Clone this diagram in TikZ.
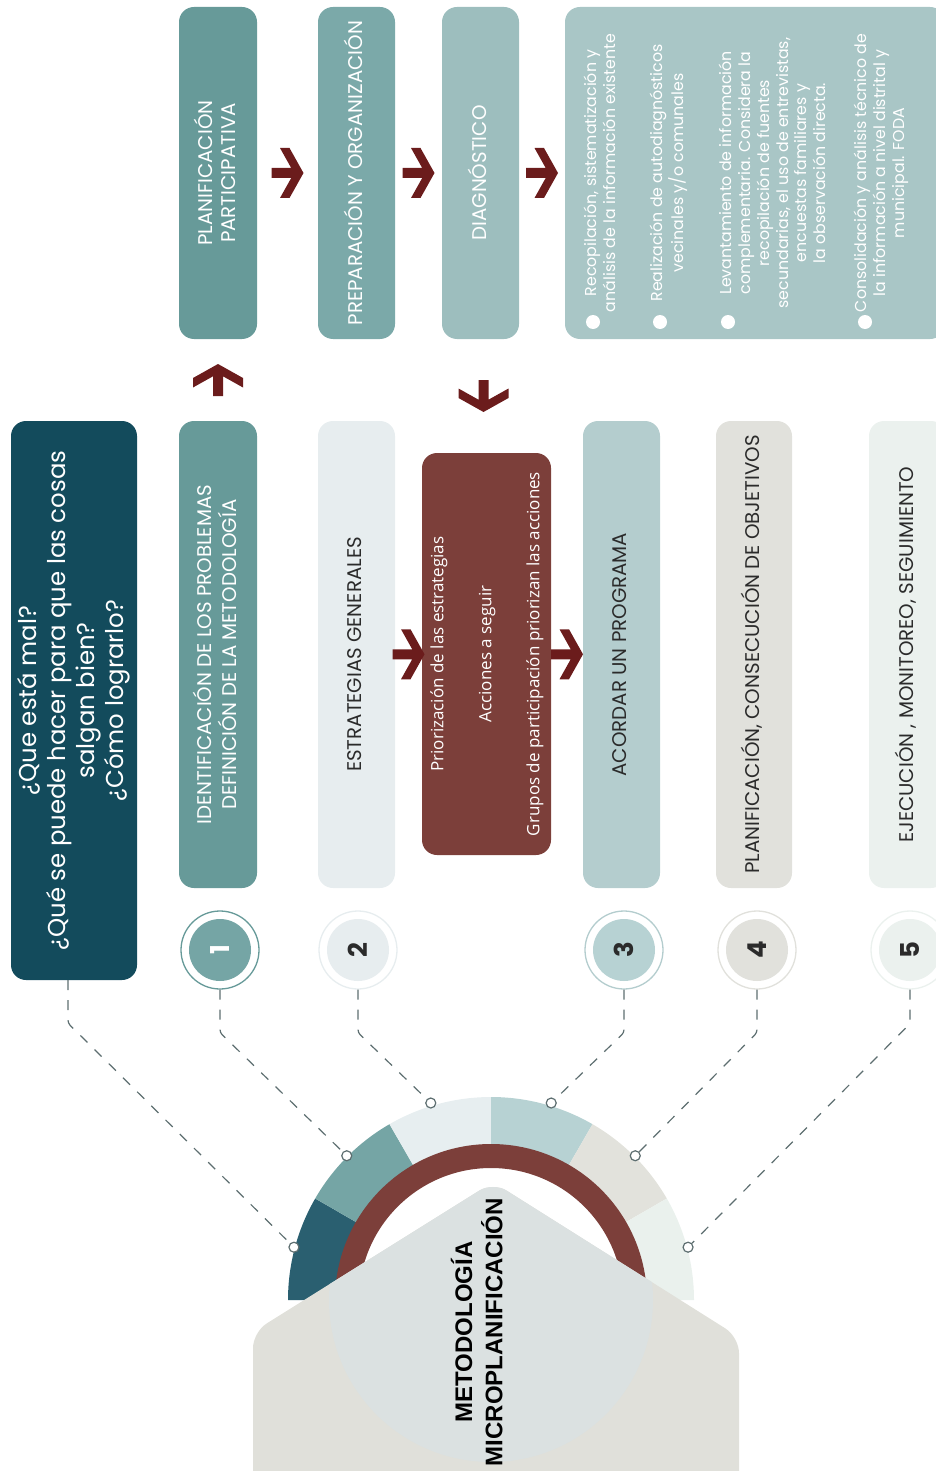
\documentclass[tikz,border=0pt]{standalone}
\usepackage{fontspec}
\setmainfont{Poppins}
\newfontfamily\osans{Open Sans}
\newfontfamily\arialb{Liberation Sans}
\usetikzlibrary{calc}
\definecolor{qblue}{HTML}{134B5C}
\definecolor{tealA}{HTML}{679A99}
\definecolor{tealB}{HTML}{7BA9A9}
\definecolor{tealC}{HTML}{9DBEBE}
\definecolor{tealD}{HTML}{A9C6C6}
\definecolor{ltB}{HTML}{E7EDEF}
\definecolor{ltC}{HTML}{B4CDCE}
\definecolor{ltD}{HTML}{E1E1DC}
\definecolor{ltE}{HTML}{EBF1EE}
\definecolor{brownbox}{HTML}{7C3F3A}
\definecolor{arrowred}{HTML}{6B1C1C}
\definecolor{segA}{HTML}{2A5F70}
\definecolor{segB}{HTML}{75A5A5}
\definecolor{segC}{HTML}{E7EEF0}
\definecolor{segD}{HTML}{B7D2D3}
\definecolor{segE}{HTML}{E2E2DC}
\definecolor{segF}{HTML}{EAF1ED}
\definecolor{housecol}{HTML}{E0E0DA}
\definecolor{housecirc}{HTML}{DBE1E1}
\definecolor{dashcol}{HTML}{5D6E70}
\definecolor{darktxt}{HTML}{2B2B2B}
\newcommand{\vtext}[1]{\rotatebox{90}{\begin{tabular}{@{}c@{}}#1\end{tabular}}}
\tikzset{
  box/.style={rounded corners=15pt, inner sep=0pt, draw=none},
  boxtxt/.style={font=\fontsize{19.8}{23}\selectfont},
  desctxt/.style={inner sep=0pt, text=white, font=\fontsize{15.8}{18.8}\selectfont},
  bulletdot/.style={circle, fill=white, minimum size=14pt, inner sep=0pt},
  marker/.style={circle, draw=dashcol, fill=white, line width=1.2pt, minimum size=10pt, inner sep=0pt},
  conn/.style={draw=dashcol, line width=1.2pt, dash pattern=on 10pt off 10pt, rounded corners=3pt},
  numc/.style 2 args={circle, minimum size=78pt, inner sep=0pt, line width=1.3pt, draw=#1, fill=white,
    path picture={\fill[#2] (path picture bounding box.center) circle (31);}},
  numtxt/.style={font=\bfseries\fontsize{26}{28}\selectfont},
  chev/.pic={\fill[arrowred] (16,0) -- (2,25) -- (-7.5,25) -- (3.7,5) -- (-16,5) -- (-16,-5) -- (3.7,-5) -- (-7.5,-25) -- (2,-25) -- cycle;}
}
\begin{document}
\begin{tikzpicture}[x=1pt,y=1pt]
\useasboundingbox (0,0) rectangle (936,-1471);
% ---- semicircle segments
\begin{scope}[shift={(491,-1300)}]
  \foreach \a/\b/\c in {180/150/segA,150/120/segB,120/90/segC,90/60/segD,60/30/segE,30/0/segF}{
    \fill[\c] (\a:203) arc[start angle=\a, end angle=\b, radius=203] -- (\b:140) arc[start angle=\b, end angle=\a, radius=140] -- cycle;
  }
  \fill[brownbox] (180:156) arc[start angle=180, end angle=0, radius=156] -- (0:132) arc[start angle=0, end angle=180, radius=132] -- cycle;
\end{scope}
% ---- house
\fill[housecol, rounded corners=16pt] (253,-1500) -- (253,-1332) -- (493,-1182) -- (739,-1337) -- (739,-1500) -- cycle;
\begin{scope}
  \clip[rounded corners=16pt] (253,-1500) -- (253,-1332) -- (493,-1182) -- (739,-1337) -- (739,-1500) -- cycle;
  \fill[housecirc] (491,-1300) circle (162);
\end{scope}
\node[font=\arialb\bfseries\fontsize{24}{30}\selectfont, text=black, inner sep=0pt] (title) at (481,-1332) {\vtext{METODOLOGÍA\\MICROPLANIFICACIÓN}};
% ---- top row
\node[box, fill=tealA, minimum width=78pt, minimum height=332pt, text=white, boxtxt] (plan) at (218,-173) {\vtext{PLANIFICACIÓN\\PARTICIPATIVA}};
\node[box, fill=tealB, minimum width=77pt, minimum height=332pt, text=white, boxtxt] (prep) at (356.5,-173) {\vtext{PREPARACIÓN Y ORGANIZACIÓN}};
\node[box, fill=tealC, minimum width=77pt, minimum height=332pt, text=white, boxtxt] (diag) at (480.5,-173) {\vtext{DIAGNÓSTICO}};
\node[box, fill=tealD, minimum width=380pt, minimum height=332pt] (desc) at (755,-173) {};
\node[desctxt] (d1) at (602.5,-173) {\vtext{Recopilación, sistematización y\\análisis de la información existente}};
\node[desctxt] (d2) at (669,-173) {\vtext{Realización de autodiagnósticos\\vecinales y/o comunales}};
\node[desctxt] (d3) at (775,-173) {\vtext{Levantamiento de información\\complementaria. Considera la\\recopilación de fuentes\\secundarias, el uso de entrevistas,\\encuestas familiares y\\la observación directa.}};
\node[desctxt] (d4) at (882,-173) {\vtext{Consolidación y análisis técnico de\\la información a nivel distrital y\\municipal. FODA}};
\node[bulletdot] (bl1) at (593,-322) {};
\node[bulletdot] (bl2) at (660,-322) {};
\node[bulletdot] (bl3) at (728,-322) {};
\node[bulletdot] (bl4) at (865,-322) {};
% ---- lower row
\node[box, fill=qblue, minimum width=126pt, minimum height=559pt, text=white, font=\fontsize{24.4}{29}\selectfont] (q) at (74,-700.5) {\vtext{¿Que está mal?\\¿Qué se puede hacer para que las cosas\\salgan bien?\\¿Cómo lograrlo?}};
\node[box, fill=tealA, minimum width=78pt, minimum height=467pt, text=white, boxtxt] (b1) at (218,-654.5) {\vtext{IDENTIFICACIÓN DE LOS PROBLEMAS\\DEFINICIÓN DE LA METODOLOGÍA}};
\node[box, fill=ltB, minimum width=77pt, minimum height=467pt, text=darktxt, boxtxt] (b2) at (356.5,-654.5) {\vtext{ESTRATEGIAS GENERALES}};
\node[box, fill=brownbox, minimum width=129pt, minimum height=402pt, text=white, font=\osans\fontsize{17}{24}\selectfont] (br) at (486.5,-654) {\vtext{Priorización de las estrategias\\ \\Acciones a seguir\\ \\Grupos de participación priorizan las acciones}};
\node[box, fill=ltC, minimum width=77pt, minimum height=467pt, text=darktxt, boxtxt] (b3) at (621.5,-654.5) {\vtext{ACORDAR UN PROGRAMA}};
\node[box, fill=ltD, minimum width=76pt, minimum height=467pt, text=darktxt, boxtxt] (b4) at (754,-654.5) {\vtext{PLANIFICACIÓN, CONSECUCIÓN DE OBJETIVOS}};
\node[box, fill=ltE, minimum width=77pt, minimum height=467pt, text=darktxt, boxtxt] (b5) at (907.5,-654.5) {\vtext{EJECUCIÓN , MONITOREO, SEGUIMIENTO}};
% ---- number circles
\node[numc={tealA}{segB}, text=white, numtxt] (c1) at (220,-950) {\rotatebox{90}{1}};
\node[numc={ltB}{ltB}, text=darktxt, numtxt] (c2) at (358,-950) {\rotatebox{90}{2}};
\node[numc={ltC}{segD}, text=darktxt, numtxt] (c3) at (624,-950) {\rotatebox{90}{3}};
\node[numc={ltD}{ltD}, text=darktxt, numtxt] (c4) at (757,-950) {\rotatebox{90}{4}};
\node[numc={ltE}{ltE}, text=darktxt, numtxt] (c5) at (910,-950) {\rotatebox{90}{5}};
% ---- markers
\node[marker] (mq) at ($(491,-1300)+(165:204)$) {};
\node[marker] (m1) at ($(491,-1300)+(135:204)$) {};
\node[marker] (m2) at ($(491,-1300)+(107:206)$) {};
\node[marker] (m3) at ($(491,-1300)+(73:206)$) {};
\node[marker] (m4) at ($(491,-1300)+(45:204)$) {};
\node[marker] (m5) at ($(491,-1300)+(15:204)$) {};
% ---- dashed connectors
\draw[conn] ($(q.south)+(-6,0)$) -- ++(0,-43) -- (mq);
\draw[conn] (c1.south) -- ++(0,-43) -- (m1);
\draw[conn] (c2.south) -- ++(0,-43) -- (m2);
\draw[conn] (c3.south) -- ++(0,-43) -- (m3);
\draw[conn] (c4.south) -- ++(0,-43) -- (m4);
\draw[conn] (c5.south) -- ++(0,-34) -- (m5);
% ---- arrows
\pic at ($(plan.east)!0.5!(prep.west)$) {chev};
\pic at ($(prep.east)!0.5!(diag.west)$) {chev};
\pic at ($(diag.east)!0.5!(desc.west)$) {chev};
\pic[rotate=90] at ($(b1.north)!0.5!(plan.south)$) {chev};
\pic[rotate=-90] at ($(diag.south)!0.5!(br.north)$) {chev};
\pic at ($(b2.east)!0.5!(br.west)$) {chev};
\pic at ($(br.east)!0.5!(b3.west)$) {chev};
\end{tikzpicture}
\end{document}
